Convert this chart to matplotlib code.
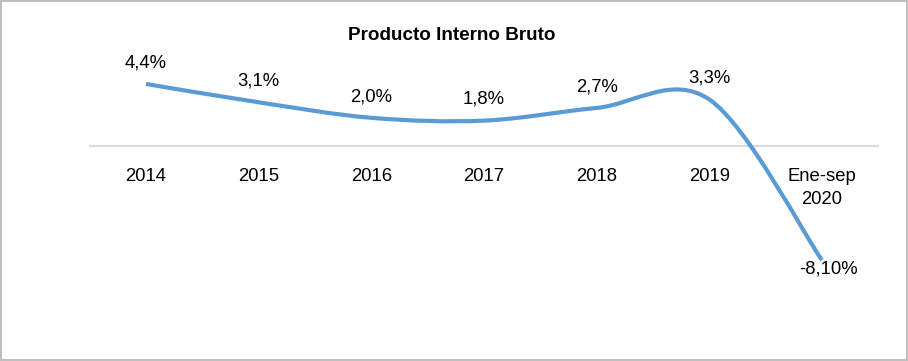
import matplotlib
matplotlib.use("Agg")
import matplotlib.pyplot as plt
from matplotlib import font_manager
from matplotlib.path import Path
from matplotlib.patches import PathPatch, Rectangle

# datos
categorias = ["2014", "2015", "2016", "2017", "2018", "2019", "Ene-sep\n2020"]
pib = [4.4, 3.1, 2.0, 1.8, 2.7, 3.3, -8.1]
etiquetas = ["4,4%", "3,1%", "2,0%", "1,8%", "2,7%", "3,3%", "-8,10%"]

names = {f.name for f in font_manager.fontManager.ttflist}
if "Liberation Sans Narrow" in names:
    fam, fs = "Liberation Sans Narrow", 15.5
else:
    fam, fs = "Liberation Sans", 13.3
plt.rcParams["font.family"] = [fam, "DejaVu Sans"]

azul = "#5B9BD5"

fig = plt.figure(figsize=(9.08, 3.61), dpi=100)
ax = fig.add_axes([0.0988, 0.1269, 0.8685, 0.703])
ax.set_xlim(-0.5, 6.5)
ax.set_ylim(-12, 6)

# linea suavizada (bezier tipo Excel)
xs = list(range(len(pib)))
pts = list(zip(xs, pib))
verts = [pts[0]]
codes = [Path.MOVETO]
n = len(pts)
for i in range(n - 1):
    p0 = pts[i - 1] if i > 0 else pts[i]
    p1 = pts[i]
    p2 = pts[i + 1]
    p3 = pts[i + 2] if i + 2 < n else pts[i + 1]
    c1 = (p1[0] + (p2[0] - p0[0]) / 6, p1[1] + (p2[1] - p0[1]) / 6)
    c2 = (p2[0] - (p3[0] - p1[0]) / 6, p2[1] - (p3[1] - p1[1]) / 6)
    verts += [c1, c2, p2]
    codes += [Path.CURVE4] * 3
ax.add_patch(PathPatch(Path(verts, codes), facecolor="none", edgecolor=azul,
                       lw=3.0, capstyle="butt", zorder=3))

# etiquetas de datos
for i, (v, t) in enumerate(zip(pib, etiquetas)):
    if v >= 0:
        ax.annotate(t, (i, v), xytext=(0, 12.0), textcoords="offset points",
                    ha="center", va="baseline", fontsize=fs)
    else:
        ax.annotate(t, (i, v), xytext=(4.3, -9.4), textcoords="offset points",
                    ha="center", va="baseline", fontsize=fs)

# eje en cero
for s in ["top", "right", "left"]:
    ax.spines[s].set_visible(False)
ax.spines["bottom"].set_position(("data", 0))
ax.spines["bottom"].set_color("#D9D9D9")
ax.spines["bottom"].set_linewidth(1.44)
ax.set_xticks(xs)
ax.set_xticklabels(categorias, fontsize=fs, linespacing=1.5)
ax.tick_params(axis="x", length=0, pad=15.5)
ax.set_yticks([])
ax.patch.set_visible(False)

fig.text(452 / 908, 0.888, "Producto Interno Bruto", ha="center", va="baseline",
         fontsize=fs * 1.02, fontweight="bold")

fig.patches.append(Rectangle((1 / 908, 1 / 361), 1 - 2 / 908, 1 - 2 / 361,
                             transform=fig.transFigure, fill=False,
                             edgecolor="#BFBFBF", lw=1.44))

fig.savefig("out.png", dpi=100)
